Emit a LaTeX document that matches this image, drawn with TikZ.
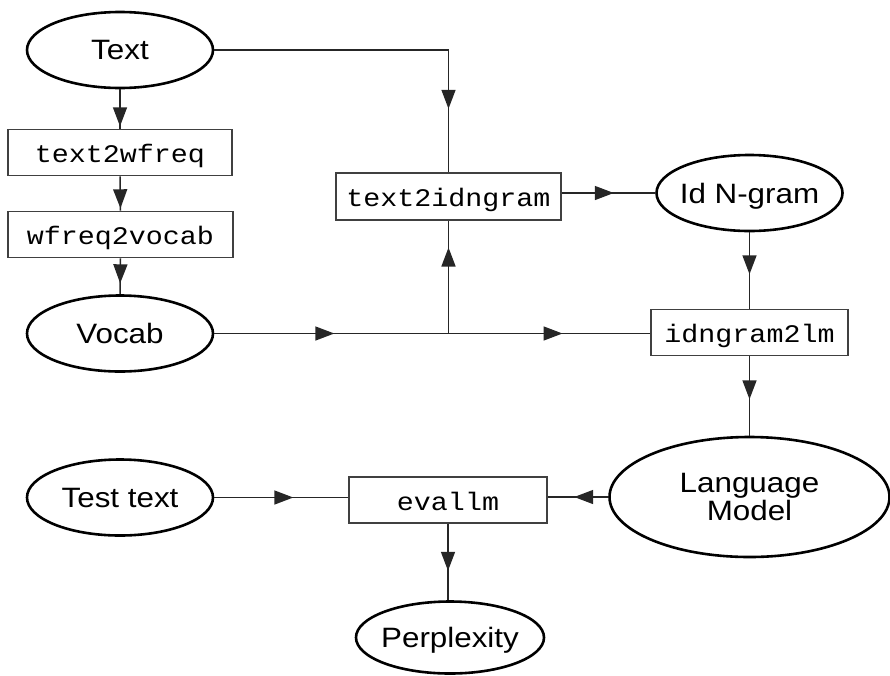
\documentclass[tikz,border=0pt]{standalone}
\usepackage{fontspec}
\usetikzlibrary{shapes.geometric,arrows.meta,decorations.markings}
\newfontfamily\labelfont[FakeStretch=1.12]{Liberation Sans}
\newfontfamily\progfont[FakeStretch=1.12]{Liberation Mono}

\begin{document}
\begin{tikzpicture}[x=1pt,y=-1pt,
  store/.style={ellipse, draw=black, line width=2.6pt, inner xsep=-10pt, inner ysep=0pt,
    minimum width=186pt, minimum height=76pt,
    font=\labelfont\fontsize{28}{28}\selectfont, text depth=0pt},
  tool/.style={rectangle, draw=black!75, line width=1.6pt, minimum height=46pt, inner sep=0pt,
    font=\progfont\fontsize{25.3}{28}\selectfont, text height=20pt, text depth=0pt},
  flow/.style={draw=black!85, line width=1.5pt},
  tipat/.style={postaction={decorate, decoration={markings,
    mark=at position #1 with {\arrow{Triangle[length=19pt,width=14pt]}}}}}
]
\useasboundingbox (0,0) rectangle (890,675);

% data files (ellipses) and programs (boxes)
\node[store] (text) at (120,50) {Text};
\node[tool, minimum width=224pt] (t2w) at (120,152.5) {text2wfreq};
\node[tool, minimum width=225pt] (w2v) at (120.5,234.5) {wfreq2vocab};
\node[store] (vocab) at (120,333.5) {Vocab};
\node[tool, minimum width=225pt, minimum height=47pt] (t2i) at (448.5,196.5) {text2idngram};
\node[store] (idn) at (749.5,193) {Id N-gram};
\node[tool, minimum width=197pt] (i2l) at (749.5,332.5) {idngram2lm};
\node[store, minimum width=280pt, minimum height=120pt, align=center] (lm) at (749.5,497) {Language\\Model};
\node[store] (tt) at (120,497.5) {Test text};
\node[tool, minimum width=198pt] (ev) at (448,500) {evallm};
\node[store, minimum width=188pt, minimum height=72pt] (perp) at (450,637.5) {Perplexity};

\coordinate (junc) at (vocab.east -| t2i.south);

% data flow
\draw[flow, tipat=37pt] (text.south) -- (t2w.north);
\draw[flow, tipat=32pt] (t2w.south) -- (w2v.north);
\draw[flow, tipat=25pt] (w2v.south) -- (vocab.north);
\draw[flow, tipat=293pt] (text.east) -| (t2i.north);
\draw[flow, tipat=120pt] (vocab.east) -- (junc);
\draw[flow, tipat=86pt] (junc) -- (t2i.south);
\draw[flow, tipat=114pt] (junc) -- (junc -| i2l.west);
\draw[flow, tipat=52pt] (t2i.east |- idn.west) -- (idn.west);
\draw[flow, tipat=42pt] (idn.south) -- (i2l.north);
\draw[flow, tipat=43pt] (i2l.south) -- (lm.north);
\draw[flow, tipat=34pt] (lm.west) -- (lm.west -| ev.east);
\draw[flow, tipat=79pt] (tt.east) -- (tt.east -| ev.west);
\draw[flow, tipat=47pt] (ev.south) -- (ev.south |- perp.north);
\end{tikzpicture}
\end{document}
